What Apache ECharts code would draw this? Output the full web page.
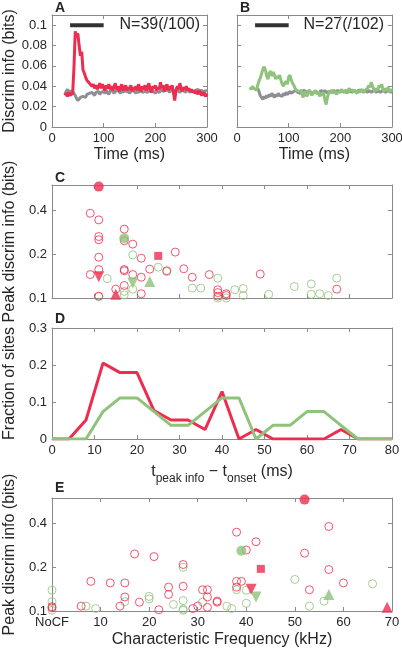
<!DOCTYPE html>
<html>
<head>
<meta charset="utf-8">
<script src="https://cdn.jsdelivr.net/npm/echarts@6/dist/echarts.min.js"></script>
<style>html,body{margin:0;padding:0;background:#fff}#c{width:402px;height:649px}</style>
</head>
<body>
<div id="c"></div>
<script>
// ---------- DATA ----------
// Panels A/B: time courses (ms), sampled every 2.5 ms
const timeStart = 25, timeStep = 2.5, grayBStart = 40;
const redA = [
0.031,0.033,0.030,0.034,0.031,0.030,0.033,0.058,0.094,0.088,
0.092,0.080,0.070,0.074,0.056,0.053,0.049,0.046,0.047,0.043,
0.044,0.040,0.042,0.038,0.041,0.037,0.040,0.043,0.038,0.042,
0.039,0.036,0.041,0.038,0.042,0.037,0.040,0.036,0.039,0.043,
0.037,0.040,0.035,0.039,0.042,0.036,0.038,0.041,0.036,0.039,
0.037,0.041,0.035,0.039,0.037,0.040,0.036,0.042,0.038,0.035,
0.040,0.037,0.041,0.036,0.039,0.043,0.037,0.034,0.040,0.038,
0.041,0.036,0.039,0.037,0.044,0.038,0.041,0.035,0.039,0.042,
0.036,0.040,0.037,0.041,0.034,0.026,0.036,0.040,0.037,0.043,
0.038,0.035,0.039,0.037,0.040,0.036,0.038,0.035,0.037,0.034,
0.036,0.033,0.035,0.032,0.036,0.033,0.031,0.034,0.032,0.030,0.033];
const grayA = [
0.032,0.035,0.037,0.034,0.036,0.033,0.035,0.034,0.031,0.028,
0.026,0.027,0.029,0.028,0.030,0.031,0.029,0.032,0.031,0.033,
0.032,0.034,0.033,0.031,0.034,0.033,0.035,0.032,0.034,0.033,
0.035,0.033,0.036,0.034,0.032,0.035,0.034,0.036,0.033,0.035,
0.034,0.036,0.035,0.033,0.036,0.034,0.035,0.037,0.034,0.036,
0.033,0.035,0.034,0.036,0.035,0.033,0.036,0.034,0.035,0.036,
0.034,0.033,0.035,0.036,0.034,0.035,0.037,0.034,0.036,0.035,
0.033,0.035,0.036,0.034,0.035,0.037,0.035,0.034,0.036,0.035,
0.036,0.034,0.035,0.037,0.036,0.034,0.035,0.036,0.035,0.034,
0.036,0.035,0.037,0.034,0.035,0.036,0.035,0.034,0.036,0.035,
0.034,0.036,0.035,0.037,0.035,0.034,0.036,0.035,0.034,0.036,0.035];
const greenB = [
0.039,0.037,0.040,0.038,0.039,0.036,0.041,0.045,0.048,0.052,
0.057,0.059,0.056,0.050,0.047,0.053,0.055,0.050,0.054,0.051,
0.047,0.050,0.048,0.051,0.046,0.042,0.040,0.043,0.045,0.042,
0.049,0.051,0.046,0.043,0.041,0.038,0.036,0.037,0.035,0.034,
0.036,0.029,0.032,0.035,0.030,0.033,0.036,0.034,0.031,0.034,
0.033,0.036,0.032,0.035,0.030,0.033,0.031,0.034,0.027,0.022,
0.029,0.033,0.035,0.034,0.036,0.033,0.035,0.032,0.034,0.033,
0.035,0.037,0.034,0.036,0.035,0.033,0.036,0.038,0.035,0.037,
0.034,0.036,0.035,0.033,0.036,0.034,0.035,0.037,0.034,0.036,
0.035,0.038,0.041,0.039,0.044,0.040,0.037,0.035,0.038,0.036,
0.041,0.039,0.042,0.037,0.035,0.038,0.036,0.039,0.034,0.037,0.035];
const grayB = [
0.038,0.035,0.031,0.029,0.027,0.030,0.028,0.031,0.029,0.032,
0.030,0.033,0.031,0.029,0.032,0.030,0.033,0.031,0.032,0.030,
0.033,0.031,0.034,0.032,0.033,0.035,0.033,0.034,0.035,0.034,
0.036,0.034,0.035,0.033,0.035,0.034,0.036,0.035,0.034,0.035,
0.036,0.034,0.035,0.033,0.035,0.036,0.034,0.035,0.034,0.036,
0.035,0.034,0.036,0.035,0.033,0.035,0.036,0.034,0.035,0.036,
0.034,0.035,0.036,0.035,0.034,0.036,0.035,0.034,0.036,0.035,
0.034,0.036,0.035,0.034,0.035,0.036,0.035,0.034,0.036,0.035,
0.036,0.035,0.034,0.036,0.035,0.034,0.036,0.035,0.034,0.035,
0.036,0.035,0.034,0.036,0.035,0.034,0.035,0.036,0.035,0.034,
0.035,0.036,0.035,0.034,0.035];
const stimWindow = [35, 100];       // ms, black bar
const stimWindowLevel = 0.1;
const nTextA = 'N=39(/100)', nTextB = 'N=27(/102)';

// Panel C: [t_peak - t_onset (ms), peak discrim info (bits)]
const cRedOpen = [[9,0.383],[11,0.345],[11,0.265],[11,0.252],[11,0.191],[11,0.157],[9,0.145],[11,0.103],[15,0.115],
 [17,0.298],[17,0.248],[19,0.235],[17,0.157],[17,0.154],[17,0.122],[19,0.145],[21,0.188],[21,0.139],[21,0.107],
 [23,0.158],[27,0.154],[29,0.207],[31,0.159],[33,0.139],[37,0.145],[39,0.114],[39,0.109],[39,0.103],[41,0.107],
 [41,0.104],[49,0.146],[67,0.115]];
const cGreenOpen = [[13,0.136],[11,0.102],[17,0.111],[17,0.105],[19,0.198],[19,0.115],[25,0.163],[27,0.152],[33,0.117],
 [35,0.117],[39,0.137],[39,0.100],[41,0.100],[43,0.114],[45,0.116],[45,0.104],[51,0.106],[57,0.120],[61,0.125],
 [61,0.106],[63,0.107],[65,0.104],[67,0.137]];
const cRedCircle = [[11,0.585]], cRedTriDown = [[11,0.14]], cRedTriUp = [[15,0.106]], cRedSquare = [[25,0.195]];
const cGreenCircle = [[17,0.258]], cGreenTriDown = [[19,0.127]], cGreenTriUp = [[23,0.13]];

// Panel D: histogram of peak latency (bins every 4 ms), counts
const dBins = [0,4,8,12,16,20,24,28,32,36,40,44,48,52,56,60,64,68,72,76,80];
const redCounts = [0,0,2,8,7,7,3,2,2,1,5,0,1,0,0,0,0,1,0,0,0];
const greenCounts = [0,0,0,2,3,3,2,1,1,2,3,3,0,1,1,2,2,1,0,0,0];
const redN = 39, greenN = 27;
const dLabelNames = ['B','A'], dLabelTimes = [9, 15], dLabelLevel = 0.26;

// Panel E: [characteristic frequency (kHz), 0 = NoCF; peak discrim info (bits)]
const eRedOpen = [[0,0.105],[0,0.107],[6,0.108],[8,0.16],[12,0.156],[14,0.108],[15,0.156],[15,0.125],[17,0.247],
 [18,0.115],[21,0.237],[22,0.102],[24,0.146],[24,0.13],[27,0.209],[27,0.148],[29,0.104],[30,0.108],[31,0.14],
 [32,0.14],[32,0.125],[32,0.106],[34,0.115],[34,0.117],[38,0.349],[38,0.16],[38,0.146],[39,0.16],[40,0.263],
 [42,0.30],[52,0.25],[53,0.14],[57,0.382],[57,0.193],[60,0.156]];
const eGreenOpen = [[0,0.139],[0,0.116],[0,0.101],[7,0.108],[9,0.104],[15,0.116],[20,0.126],[20,0.121],[25,0.111],
 [27,0.2],[27,0.118],[27,0.103],[27,0.101],[31,0.115],[36,0.108],[37,0.104],[38,0.14],[40,0.139],[40,0.113],
 [50,0.165],[53,0.108],[56,0.117],[66,0.154]];
const eRedCircle = [[52,0.585]], eRedTriDown = [[41,0.141]], eRedTriUp = [[69,0.106]], eRedSquare = [[43,0.195]];
const eGreenCircle = [[39,0.26]], eGreenTriDown = [[42,0.125]], eGreenTriUp = [[57,0.13]];

// ---------- STYLE ----------
const FONT = 'Liberation Sans';
const RED = '#EE2C50', GREEN = '#8FC27A', GRAY = '#8E8E96', AXC = '#8a8a8a', TXT = '#262626';
const LOGMAX = Math.log2(6); // axis top = 0.6 bits, bottom = 0.1 bits

const toSeries = (arr, start) => arr.map((v, i) => [start + i * timeStep, v]);
const toLog = pts => pts.map(([x, v]) => [x, Math.log2(v / 0.1)]);

function ax(gridIndex, min, max, interval, position, labels, extra) {
  return Object.assign({
    type: 'value', gridIndex, min, max, interval, position,
    axisLine: { show: true, onZero: false, lineStyle: { color: AXC, width: 1 } },
    axisTick: { show: true, inside: true, length: 4, lineStyle: { color: AXC } },
    splitLine: { show: false },
    axisLabel: { show: labels, color: TXT, fontSize: 13, fontFamily: FONT, margin: 5 }
  }, extra || {});
}
const yName = (name, gap) => ({
  name, nameLocation: 'middle', nameGap: gap, nameRotate: 90,
  nameTextStyle: { fontSize: 16, color: TXT, fontFamily: FONT }
});
const xName = (name, gap) => ({
  name, nameLocation: 'middle', nameGap: gap,
  nameTextStyle: { fontSize: 16, color: TXT, fontFamily: FONT }
});
const logLabel = v => Math.abs(v - Math.round(v)) < 1e-6 ? (0.1 * Math.pow(2, Math.round(v))).toFixed(1) : '';

const grids = [
  { left: 52, top: 15, width: 155, height: 112 },
  { left: 237, top: 15, width: 155, height: 112 },
  { left: 52, top: 185, width: 340, height: 113 },
  { left: 52, top: 328, width: 340, height: 111 },
  { left: 52, top: 498, width: 340, height: 113 }
].map(g => Object.assign({ containLabel: false, outerBoundsMode: 'none', show: false }, g));

const xAxis = [
  Object.assign(ax(0, 0, 300, 100, 'bottom', true), xName('Time (ms)', 20)),
  ax(0, 0, 300, 100, 'top', false),
  Object.assign(ax(1, 0, 300, 100, 'bottom', true), xName('Time (ms)', 20)),
  ax(1, 0, 300, 100, 'top', false),
  ax(2, 0, 80, 10, 'bottom', false),
  ax(2, 0, 80, 10, 'top', false),
  Object.assign(ax(3, 0, 80, 10, 'bottom', true), {
    name: '{m|t}{s|peak info}{m| − t}{s|onset}{m| (ms)}', nameLocation: 'middle', nameGap: 19,
    nameTextStyle: { rich: {
      m: { fontSize: 16, color: TXT, fontFamily: FONT },
      s: { fontSize: 12, color: TXT, fontFamily: FONT, padding: [15, 0, 0, 0] }
    } }
  }),
  ax(3, 0, 80, 10, 'top', false),
  Object.assign(ax(4, 0, 70, 10, 'bottom', true), xName('Characteristic Frequency (kHz)', 21)),
  ax(4, 0, 70, 10, 'top', false)
];
xAxis[8].axisLabel.formatter = v => (v === 0 ? 'NoCF' : String(v));

const yAxis = [
  Object.assign(ax(0, 0, 0.11, 0.02, 'left', true), yName('Discrim info (bits)', 33)),
  ax(0, 0, 0.11, 0.02, 'right', false),
  ax(1, 0, 0.11, 0.02, 'left', false),
  ax(1, 0, 0.11, 0.02, 'right', false),
  Object.assign(ax(2, 0, LOGMAX, 1, 'left', true), yName('Peak discrim info (bits)', 33)),
  ax(2, 0, LOGMAX, 1, 'right', false),
  Object.assign(ax(3, 0, 0.3, 0.1, 'left', true), yName('Fraction of sites', 33)),
  ax(3, 0, 0.3, 0.1, 'right', false),
  Object.assign(ax(4, 0, LOGMAX, 1, 'left', true), yName('Peak discrim info (bits)', 33)),
  ax(4, 0, LOGMAX, 1, 'right', false)
];
yAxis[0].axisLabel.showMaxLabel = false;
yAxis[4].axisLabel.formatter = logLabel;
yAxis[8].axisLabel.formatter = logLabel;

const line = (xi, data, color, w) => ({
  type: 'line', xAxisIndex: xi, yAxisIndex: xi, data, symbol: 'none', silent: true,
  lineStyle: { color, width: w }, animation: false
});
const openSc = (xi, data, color) => ({
  type: 'scatter', xAxisIndex: xi, yAxisIndex: xi, data: toLog(data), symbol: 'circle', symbolSize: 8,
  itemStyle: { color: 'rgba(0,0,0,0)', borderColor: color, borderWidth: 1 }, animation: false
});
const fillSc = (xi, data, color, symbol, size, rot) => ({
  type: 'scatter', xAxisIndex: xi, yAxisIndex: xi, data: toLog(data), symbol, symbolSize: size,
  symbolRotate: rot || 0, itemStyle: { color }, animation: false
});

const series = [
  // A
  line(0, toSeries(grayA, timeStart), GRAY, 3),
  line(0, toSeries(redA, timeStart), RED, 3),
  line(0, stimWindow.map(t => [t, stimWindowLevel]), '#333', 4),
  // B
  line(2, toSeries(grayB, grayBStart), GRAY, 3),
  line(2, toSeries(greenB, timeStart), GREEN, 3),
  line(2, stimWindow.map(t => [t, stimWindowLevel]), '#333', 4),
  // C
  openSc(4, cGreenOpen, GREEN),
  openSc(4, cRedOpen, RED),
  fillSc(4, cGreenCircle, GREEN, 'circle', 10),
  fillSc(4, cGreenTriDown, GREEN, 'triangle', 11, 180),
  fillSc(4, cGreenTriUp, GREEN, 'triangle', 11),
  fillSc(4, cRedCircle, RED, 'circle', 10),
  fillSc(4, cRedTriDown, RED, 'triangle', 11, 180),
  fillSc(4, cRedTriUp, RED, 'triangle', 11),
  fillSc(4, cRedSquare, RED, 'rect', 8),
  // D
  line(6, dBins.map((b, i) => [b, redCounts[i] / redN]), RED, 3),
  line(6, dBins.map((b, i) => [b, greenCounts[i] / greenN]), GREEN, 3),
  {
    type: 'scatter', xAxisIndex: 6, yAxisIndex: 6, symbolSize: 1, itemStyle: { opacity: 0 }, animation: false,
    data: dLabelNames.map((n, i) => ({ name: n, value: [dLabelTimes[i], dLabelLevel] })),
    label: { show: true, position: 'inside', formatter: '{b}', color: RED, fontSize: 14, fontFamily: FONT }
  },
  // E
  openSc(8, eGreenOpen, GREEN),
  openSc(8, eRedOpen, RED),
  fillSc(8, eGreenCircle, GREEN, 'circle', 10),
  fillSc(8, eGreenTriDown, GREEN, 'triangle', 11, 180),
  fillSc(8, eGreenTriUp, GREEN, 'triangle', 11),
  fillSc(8, eRedCircle, RED, 'circle', 10),
  fillSc(8, eRedTriDown, RED, 'triangle', 11, 180),
  fillSc(8, eRedTriUp, RED, 'triangle', 11),
  fillSc(8, eRedSquare, RED, 'rect', 8)
];

const letter = (t, left, top) => ({ text: t, left, top, padding: 0,
  textStyle: { fontSize: 14, fontWeight: 'bold', color: TXT, fontFamily: FONT } });
const ntext = (text, x) => ({ type: 'text', x, y: 25, silent: true,
  style: { text, font: '16px "Liberation Sans"', fill: TXT, textAlign: 'right', textVerticalAlign: 'middle', align: 'right', verticalAlign: 'middle' } });

const chart = echarts.init(document.getElementById('c'), null, { renderer: 'canvas' });
chart.setOption({
  animation: false,
  backgroundColor: '#fff',
  title: [letter('A', 55, 1), letter('B', 240, 1), letter('C', 55, 171), letter('D', 55, 312), letter('E', 55, 481)],
  grid: grids, xAxis, yAxis, series,
  graphic: [ntext(nTextA, 200), ntext(nTextB, 384)]
});
</script>
</body>
</html>
